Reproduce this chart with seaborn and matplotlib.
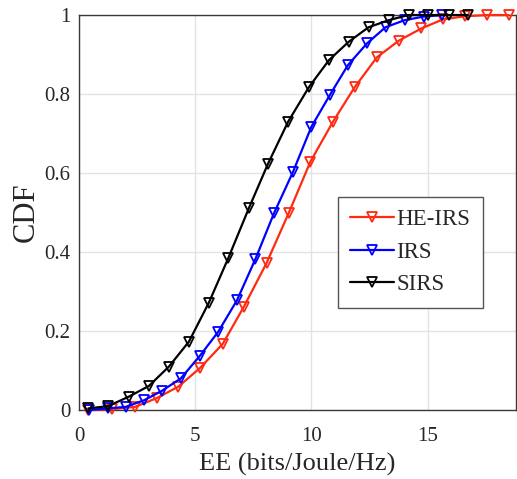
import numpy as np
import pandas as pd
import matplotlib
matplotlib.use("Agg")
import matplotlib.pyplot as plt
import seaborn as sns

# values
he_irs_x = [0.39, 1.40, 2.41, 3.34, 4.27, 5.20, 6.18, 7.10, 8.07, 9.02,
            9.96, 10.93, 11.86, 12.82, 13.76, 14.73, 15.66, 16.63, 17.55, 18.49]
he_irs_y = [0.0, 0.002, 0.008, 0.03, 0.059, 0.106, 0.167, 0.262, 0.372, 0.498,
            0.629, 0.73, 0.817, 0.893, 0.935, 0.966, 0.989, 0.997, 1.0, 1.0]

irs_x = [0.43, 1.23, 2.01, 2.81, 3.58, 4.38, 5.20, 5.99, 6.80, 7.59,
         8.39, 9.21, 10.0, 10.79, 11.57, 12.39, 13.19, 14.01, 14.83, 15.63]
irs_y = [0.0, 0.004, 0.008, 0.025, 0.049, 0.08, 0.137, 0.198, 0.278, 0.382,
         0.498, 0.603, 0.717, 0.797, 0.873, 0.928, 0.969, 0.987, 0.996, 1.0]

sirs_x = [0.40, 1.26, 2.15, 3.01, 3.87, 4.73, 5.59, 6.42, 7.31, 8.13,
          9.00, 9.90, 10.76, 11.60, 12.46, 13.33, 14.18, 15.04, 15.91, 16.73]
sirs_y = [0.004, 0.01, 0.034, 0.061, 0.11, 0.173, 0.272, 0.384, 0.511, 0.623,
          0.73, 0.818, 0.886, 0.932, 0.969, 0.987, 1.0, 1.0, 1.0, 1.0]

series = [("HE-IRS", he_irs_x, he_irs_y, "#ff2a12"),
          ("IRS", irs_x, irs_y, "#0000ff"),
          ("SIRS", sirs_x, sirs_y, "#000000")]

sns.set_style("whitegrid")
plt.rcParams["font.family"] = ["Liberation Serif", "DejaVu Serif"]

fig = plt.figure(figsize=(5.17, 4.79), dpi=100)
ax = fig.add_axes([0.1528, 0.144, 0.845, 0.8246])

for name, xs, ys, col in series:
    df = pd.DataFrame({"EE": xs, "CDF": ys})
    sns.lineplot(data=df, x="EE", y="CDF", ax=ax, color=col, label=name,
                 marker="v", markersize=7, markerfacecolor="none",
                 markeredgecolor=col, markeredgewidth=1.3, linewidth=1.6,
                 clip_on=False, zorder=3)

ax.set_xlim(0, 18.8)
ax.set_ylim(0, 1)
ax.set_xticks([0, 5, 10, 15])
ax.set_yticks([0, 0.2, 0.4, 0.6, 0.8, 1])
ax.set_yticklabels(["0", "0.2", "0.4", "0.6", "0.8", "1"])
ax.grid(True, color="#e3e3e3", linewidth=1.0)
ax.tick_params(axis="x", direction="in", length=4, width=0.8,
               colors="#262626", labelsize=15, pad=12)
ax.tick_params(axis="y", direction="in", length=4, width=0.8,
               colors="#262626", labelsize=15, pad=6)
for s in ax.spines.values():
    s.set_visible(True)
    s.set_color("#3a3a3a")
    s.set_linewidth(1.0)

ax.set_xlabel("EE (bits/Joule/Hz)", fontsize=19, color="#262626", labelpad=5)
ax.set_ylabel("CDF", fontsize=22, color="#262626", labelpad=3)

leg = ax.legend(loc="upper left", bbox_to_anchor=(0.592, 0.54), borderaxespad=0,
                fontsize=16.5, frameon=True, fancybox=False, framealpha=1,
                edgecolor="#555555", handlelength=1.9, handletextpad=0.1,
                borderpad=0.55, labelspacing=0.5)
leg.get_frame().set_linewidth(1.0)

fig.savefig("out.png", dpi=100)
